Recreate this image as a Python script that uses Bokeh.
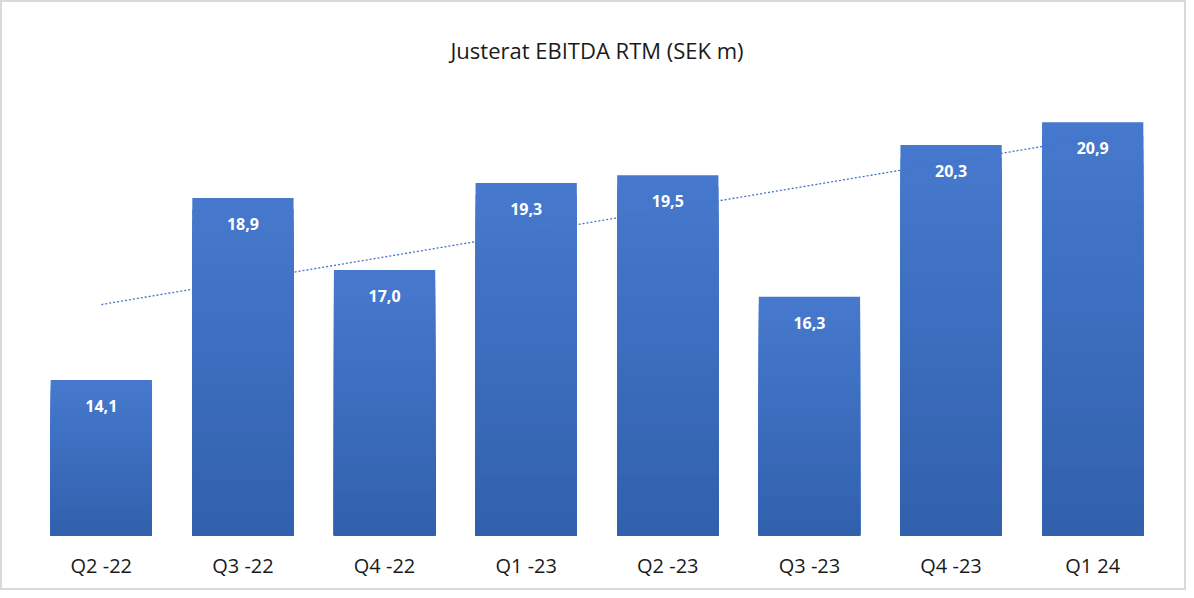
import numpy as np
from bokeh.plotting import figure
from bokeh.models import Range1d, FactorRange, ColumnDataSource
from bokeh.core.properties import value
from bokeh.embed import file_html
from bokeh.resources import INLINE

categories = ["Q2 -22", "Q3 -22", "Q4 -22", "Q1 -23", "Q2 -23", "Q3 -23", "Q4 -23", "Q1 24"]
ebitda = [14.1, 18.9, 17.0, 19.3, 19.5, 16.3, 20.3, 20.9]
labels = ["14,1", "18,9", "17,0", "19,3", "19,5", "16,3", "20,3", "20,9"]
y_min, y_max = 10, 22

p = figure(width=1186, height=590, x_range=FactorRange(factors=categories, range_padding=0),
           y_range=Range1d(y_min, y_max), output_backend="svg", toolbar_location=None,
           min_border_left=28, min_border_right=25, min_border_top=78, min_border_bottom=57)
p.styles = {"border": "2px solid #D9D9D9"}
p.outline_line_color = None
p.xgrid.visible = False
p.ygrid.visible = False
p.yaxis.visible = False

p.title.text = "Justerat EBITDA RTM (SEK m)"
p.title.align = "center"
p.title.vertical_align = "middle"
p.title.text_font = "Open Sans"
p.title.text_font_size = "22px"
p.title.text_font_style = "normal"
p.title.text_color = "#1a1a1a"
p.title.standoff = 30

# gradient bars: top lighter, bottom darker
light = np.array([0x46, 0x79, 0xCD])
dark = np.array([0x31, 0x61, 0xAD])
N = 30
vals = np.array(ebitda)
for i in range(N):
    t = i / (N - 1)
    c = (light * (1 - t) + dark * t).round().astype(int)
    col = "#%02x%02x%02x" % tuple(c)
    tops = y_min + (vals - y_min) * (1 - i / N)
    p.vbar(x=categories, top=tops, bottom=y_min, width=0.715, fill_color=col, line_color=None)

# linear trendline
xs = np.arange(1, len(ebitda) + 1)
k, b = np.polyfit(xs, vals, 1)
trend = k * xs + b
p.line(x=categories, y=trend, line_color="#4472C4", line_width=1.3, line_dash="2 2")

src = ColumnDataSource(dict(x=categories, y=ebitda, t=labels))
p.text(x="x", y="y", text="t", source=src, y_offset=26, text_align="center",
       text_baseline="middle", text_color="white", text_font=value("Open Sans"),
       text_font_size="16px", text_font_style="bold")

ax = p.xaxis[0]
ax.axis_line_color = None
ax.major_tick_line_color = None
ax.minor_tick_line_color = None
ax.major_label_text_font = "Open Sans"
ax.major_label_text_font_size = "20px"
ax.major_label_text_color = "#1a1a1a"
ax.major_label_standoff = 10

open("out.html", "w").write(file_html(p, INLINE))
